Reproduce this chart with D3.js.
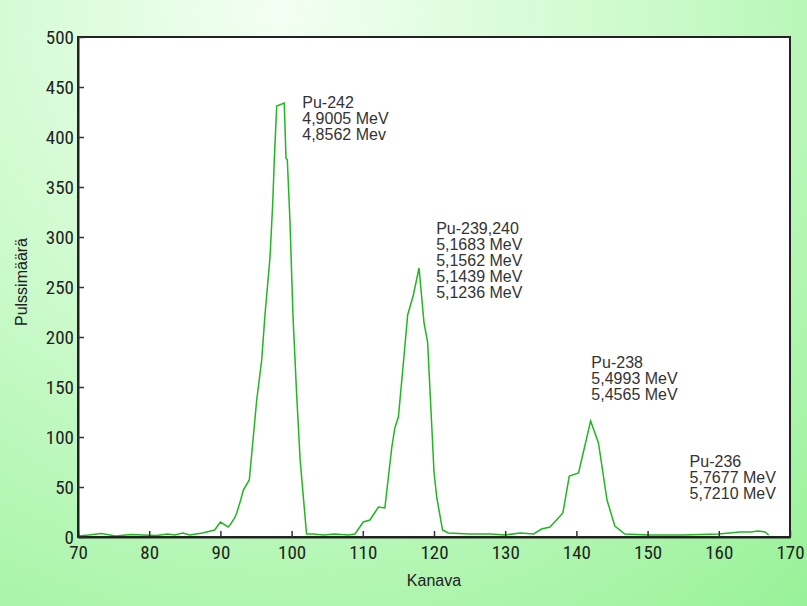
<!DOCTYPE html>
<html lang="fi">
<head>
<meta charset="UTF-8">
<title>Pu-spektri</title>
<script src="https://d3js.org/d3.v7.min.js"></script>
<style>
    body { margin: 0; }
    .tick text {
        font-family: "Liberation Sans Narrow", "Roboto Condensed", "Liberation Sans", Arial, sans-serif;
        font-size: 19px;
        fill: #222;
    }
    .note {
        font-family: "Liberation Sans", Arial, sans-serif;
        font-size: 16px;
        fill: #333;
    }
    .axis-title {
        font-family: "Liberation Sans Narrow", "Liberation Sans", Arial, sans-serif;
        fill: #222;
    }
</style>
</head>
<body>
<div id="chart"></div>
<script>
    // channel (Kanava) and counts (Pulssimäärä)
    const channels = [70, 71.5, 73.3, 75.3, 77.4, 79.1, 81, 82.6, 83.6, 84.7, 85.7, 87.5, 89.2, 90.0, 91.1, 91.35, 92.0, 92.29, 92.85, 93.22, 94.06, 94.62, 95.1, 95.8, 96.26, 96.97, 97.35, 97.57, 97.91, 98.97, 99.21, 99.4, 99.78, 100.2, 100.7, 101.2, 102.1, 103, 104.5, 106, 108, 108.9, 110.07, 111, 112.2, 113.1, 114.06, 114.5, 115, 115.8, 116.3, 117.1, 117.9, 118.6, 119.1, 119.7, 120.0, 120.4, 121.2, 122, 125, 128, 130, 132.1, 134, 135.1, 136.3, 138.1, 139.0, 140.3, 142.0, 143.1, 144.3, 145.4, 146.8, 150, 155, 160, 163, 164.5, 165.5, 166.5, 167];
    const counts   = [1, 2, 3.5, 1, 2.5, 2, 1.5, 3, 2, 4, 2, 4, 7, 15, 10, 12, 19, 24, 37, 47, 57, 100, 137, 177, 222, 280, 334, 377, 431, 434, 379, 377, 314, 220, 144, 77, 3, 3, 2, 3, 2, 3, 15, 17, 30, 29, 89, 109, 120, 182, 222, 242, 269, 214, 195, 109, 65, 39, 7, 4, 3, 3, 2, 4, 3, 8, 10, 24, 61, 64, 116, 94, 37, 11, 3, 2, 2, 3, 5, 5, 6, 5, 2];

    const xTicks = [70, 80, 90, 100, 110, 120, 130, 140, 150, 160, 170];
    const yTicks = [0, 50, 100, 150, 200, 250, 300, 350, 400, 450, 500];

    const notes = [
        { ch: 101.5, v: 429, lines: ["Pu-242", "4,9005 MeV", "4,8562 Mev"] },
        { ch: 120.3, v: 303, lines: ["Pu-239,240", "5,1683 MeV", "5,1562 MeV", "5,1439 MeV", "5,1236 MeV"] },
        { ch: 142.1, v: 169, lines: ["Pu-238", "5,4993 MeV", "5,4565 MeV"] },
        { ch: 155.9, v: 70, lines: ["Pu-236", "5,7677 MeV", "5,7210 MeV"] }
    ];

    const W = 807, H = 606;
    const m = { left: 78, top: 37, right: 17, bottom: 69 };
    const w = W - m.left - m.right, h = H - m.top - m.bottom;

    const svg = d3.select("#chart").append("svg")
        .attr("width", W)
        .attr("height", H);

    // light green background
    const defs = svg.append("defs");
    const grad = defs.append("radialGradient")
        .attr("id", "bg")
        .attr("gradientUnits", "userSpaceOnUse")
        .attr("cx", 280).attr("cy", 10).attr("r", 820);
    grad.append("stop").attr("offset", 0).attr("stop-color", "#f3fff3");
    grad.append("stop").attr("offset", 0.45).attr("stop-color", "#cbfacb");
    grad.append("stop").attr("offset", 1).attr("stop-color", "#95f195");

    svg.append("rect")
        .attr("width", W).attr("height", H)
        .attr("fill", "url(#bg)");

    const g = svg.append("g").attr("transform", `translate(${m.left},${m.top})`);

    g.append("rect")
        .attr("width", w).attr("height", h)
        .attr("fill", "#fff");

    const x = d3.scaleLinear().domain([70, 170]).range([0, w]);
    const y = d3.scaleLinear().domain([0, 500]).range([h, 0]);

    // spectrum line
    const line = d3.line()
        .x(d => x(d[0]))
        .y(d => y(d[1]));

    g.append("path")
        .datum(channels.map((c, i) => [c, counts[i]]))
        .attr("d", line)
        .attr("fill", "none")
        .attr("stroke", "#1fb81f")
        .attr("stroke-width", 1.5);

    // frame
    g.append("rect")
        .attr("width", w).attr("height", h)
        .attr("fill", "none")
        .attr("stroke", "#222")
        .attr("stroke-width", 2);

    const xAxis = g.append("g")
        .attr("transform", `translate(0,${h})`)
        .call(d3.axisBottom(x).tickValues(xTicks).tickSizeInner(-6).tickSizeOuter(0).tickPadding(9));
    const yAxis = g.append("g")
        .call(d3.axisLeft(y).tickValues(yTicks).tickSizeInner(-6).tickSizeOuter(0).tickPadding(4));

    [xAxis, yAxis].forEach(a => {
        a.select(".domain").attr("stroke", "#222").attr("stroke-width", 2);
        a.selectAll(".tick line").attr("stroke", "#333").attr("stroke-width", 1.5);
    });

    // axis titles
    svg.append("text")
        .attr("class", "axis-title")
        .attr("x", m.left + w / 2)
        .attr("y", 586)
        .attr("text-anchor", "middle")
        .attr("font-size", 16)
        .text("Kanava");

    svg.append("text")
        .attr("class", "axis-title")
        .attr("transform", `translate(27,${m.top + h / 2 - 5}) rotate(-90)`)
        .attr("text-anchor", "middle")
        .attr("font-size", 16)
        .text("Pulssimäärä");

    // peak annotations
    notes.forEach(n => {
        const t = g.append("text")
            .attr("class", "note")
            .attr("x", x(n.ch))
            .attr("y", y(n.v));
        n.lines.forEach((s, i) => {
            t.append("tspan")
                .attr("x", x(n.ch))
                .attr("dy", i === 0 ? 0 : 16)
                .text(s);
        });
    });
</script>
</body>
</html>
